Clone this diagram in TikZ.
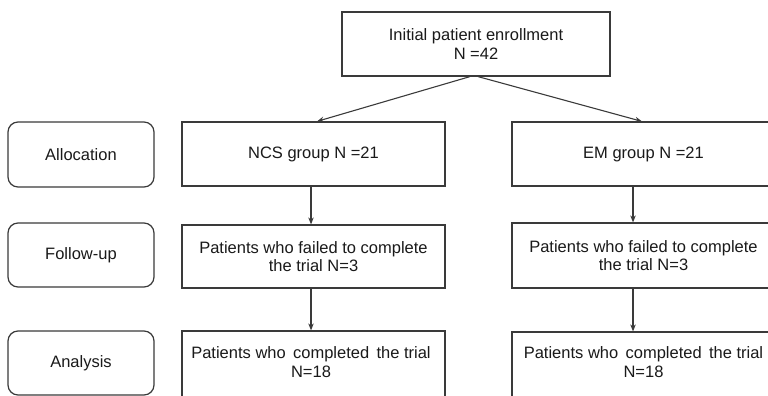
\documentclass[tikz,border=0pt]{standalone}
\usepackage{fontspec}
\setmainfont{Liberation Sans}
\usetikzlibrary{arrows.meta}
\definecolor{linec}{HTML}{3A3A3A}
\definecolor{textc}{HTML}{1A1A1A}
\begin{document}
\begin{tikzpicture}[x=1pt,y=-1pt,
  box/.style={draw=linec,line width=1.2pt,fill=white,inner sep=0pt,align=center,
    text=textc,font=\fontsize{16.5}{18.5}\selectfont},
  mainbox/.style={box,minimum width=263pt},
  stage/.style={box,rounded corners=10pt,minimum width=146pt},
  arr/.style={draw=linec,line width=1.1pt,-{Stealth[length=7pt,width=5.5pt]}}]
\useasboundingbox (0,0) rectangle (768,396);
\clip (0,0) rectangle (768,396);
% top
\node[box,minimum width=268pt,minimum height=64pt] (top) at (476,44) {Initial patient enrollment\\N =42};
% stages
\node[stage,minimum height=65pt] (alloc) at (81,154.5) {Allocation};
\node[stage,minimum height=64pt] (follow) at (81,255) {Follow-up};
\node[stage,minimum height=64pt] (anal) at (81,363) {Analysis};
% middle column
\node[mainbox,minimum height=64pt] (ncs) at (313.5,154) {NCS group N =21};
\node[mainbox,minimum height=63pt] (ncsf) at (313.5,256.5) {Patients who failed to complete\\the trial N=3};
\node[mainbox,minimum height=68pt,text depth=0pt] (ncsc) at (313.5,365) {};
\node[text=textc,font=\fontsize{16.5}{18.5}\selectfont,align=center] (ncsct) at (311,362) {Patients who\, completed\, the trial\\N=18};
% right column
\node[mainbox,minimum height=64pt] (em) at (643.5,154) {EM group N =21};
\node[mainbox,minimum height=65pt] (emf) at (643.5,255.5) {Patients who failed to complete\\the trial N=3};
\node[mainbox,minimum height=68pt] (emc) at (643.5,366) {};
\node[text=textc,font=\fontsize{16.5}{18.5}\selectfont,align=center] (emct) at (643.5,362) {Patients who\, completed\, the trial\\N=18};
% arrows
\draw[arr] ([xshift=-6pt]top.south) -- ([xshift=3.5pt]ncs.north);
\draw[arr] ([xshift=2pt]top.south) -- ([xshift=-1.5pt]em.north);
\draw[arr] ([xshift=-2.5pt]ncs.south) -- ([xshift=-2.5pt]ncsf.north);
\draw[arr] ([xshift=-2.5pt]ncsf.south) -- ([xshift=-2.5pt]ncsc.north);
\draw[arr] ([xshift=-10.5pt]em.south) -- ([xshift=-10.5pt]emf.north);
\draw[arr] ([xshift=-10.5pt]emf.south) -- ([xshift=-10.5pt]emc.north);
\end{tikzpicture}
\end{document}
